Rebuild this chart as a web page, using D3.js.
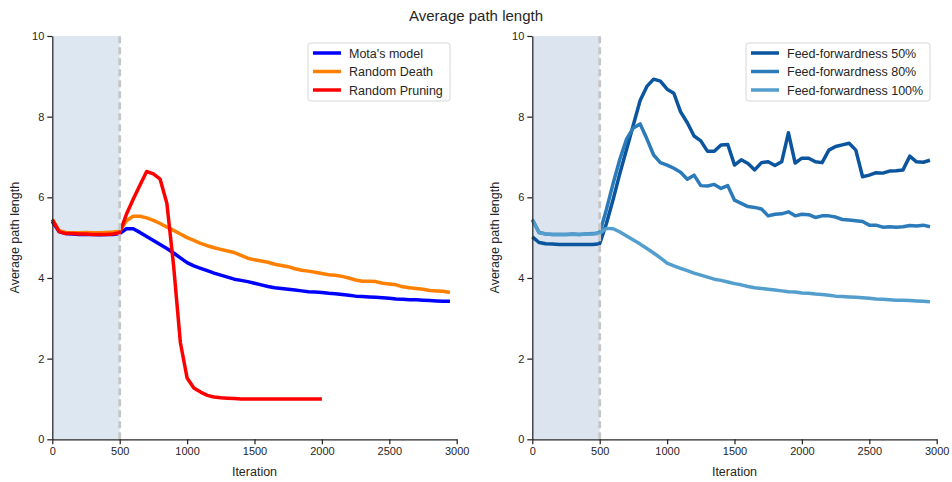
<!DOCTYPE html>
<html>
<head>
<meta charset="utf-8">
<script src="https://cdn.jsdelivr.net/npm/d3@7"></script>
<style>
  body { margin: 0; background: #fff; }
  text { font-family: "Liberation Sans", Arial, sans-serif; fill: #262626; }
</style>
</head>
<body>
<svg class="chart" width="952" height="482"></svg>
<script>
// iterations sampled every 50 steps
const iterations = [0, 50, 100, 150, 200, 250, 300, 350, 400, 450,
    500, 550, 600, 650, 700, 750, 800, 850, 900, 950,
    1000, 1050, 1100, 1150, 1200, 1250, 1300, 1350, 1400, 1450,
    1500, 1550, 1600, 1650, 1700, 1750, 1800, 1850, 1900, 1950,
    2000, 2050, 2100, 2150, 2200, 2250, 2300, 2350, 2400, 2450,
    2500, 2550, 2600, 2650, 2700, 2750, 2800, 2850, 2900, 2950];

const motaModel = [5.40, 5.15, 5.10, 5.09, 5.08, 5.08, 5.08, 5.07, 5.08, 5.08,
    5.10, 5.22, 5.22, 5.13, 5.03, 4.93, 4.83, 4.73, 4.62, 4.50,
    4.38, 4.30, 4.24, 4.18, 4.12, 4.07, 4.02, 3.97, 3.94, 3.91,
    3.87, 3.83, 3.79, 3.76, 3.74, 3.72, 3.70, 3.68, 3.66, 3.65,
    3.64, 3.62, 3.61, 3.59, 3.57, 3.55, 3.54, 3.53, 3.52, 3.51,
    3.50, 3.48, 3.47, 3.46, 3.46, 3.45, 3.44, 3.43, 3.42, 3.42];

const randomDeath = [5.45, 5.18, 5.13, 5.12, 5.12, 5.13, 5.12, 5.12, 5.13, 5.14,
    5.16, 5.42, 5.53, 5.53, 5.49, 5.43, 5.35, 5.26, 5.18, 5.09,
    5.00, 4.93, 4.86, 4.80, 4.75, 4.71, 4.67, 4.63, 4.56, 4.49,
    4.45, 4.42, 4.39, 4.34, 4.31, 4.28, 4.23, 4.19, 4.17, 4.14,
    4.11, 4.08, 4.07, 4.04, 4.00, 3.95, 3.92, 3.92, 3.91, 3.87,
    3.85, 3.83, 3.78, 3.76, 3.74, 3.72, 3.69, 3.68, 3.67, 3.64];

// random pruning stops at 2000
const randomPruning = [5.45, 5.15, 5.10, 5.10, 5.09, 5.09, 5.08, 5.08, 5.08, 5.09,
    5.12, 5.58, 5.95, 6.30, 6.64, 6.58, 6.45, 5.85, 4.30, 2.40,
    1.52, 1.27, 1.17, 1.09, 1.05, 1.03, 1.02, 1.01, 1.00, 1.00,
    1.00, 1.00, 1.00, 1.00, 1.00, 1.00, 1.00, 1.00, 1.00, 1.00,
    1.00];

const ff50 = [5.02, 4.88, 4.85, 4.84, 4.83, 4.83, 4.83, 4.83, 4.83, 4.83,
    4.85, 5.35, 5.95, 6.60, 7.20, 7.80, 8.40, 8.75, 8.93, 8.88,
    8.68, 8.58, 8.12, 7.85, 7.52, 7.40, 7.14, 7.14, 7.30, 7.31,
    6.80, 6.93, 6.84, 6.68, 6.86, 6.88, 6.79, 6.88, 7.60, 6.85,
    6.97, 6.97, 6.88, 6.86, 7.17, 7.26, 7.30, 7.34, 7.17, 6.51,
    6.55, 6.61, 6.60, 6.65, 6.66, 6.68, 7.02, 6.88, 6.87, 6.92];

const ff80 = [5.45, 5.13, 5.09, 5.08, 5.08, 5.08, 5.09, 5.08, 5.09, 5.10,
    5.12, 5.70, 6.35, 6.95, 7.45, 7.72, 7.82, 7.45, 7.05, 6.86,
    6.80, 6.72, 6.62, 6.45, 6.55, 6.29, 6.28, 6.32, 6.22, 6.29,
    5.93, 5.85, 5.77, 5.75, 5.71, 5.54, 5.58, 5.59, 5.64, 5.54,
    5.58, 5.57, 5.50, 5.54, 5.54, 5.51, 5.45, 5.44, 5.42, 5.40,
    5.31, 5.31, 5.26, 5.27, 5.26, 5.27, 5.30, 5.29, 5.31, 5.27];

const ff100 = [5.44, 5.12, 5.09, 5.08, 5.08, 5.08, 5.08, 5.08, 5.09, 5.09,
    5.11, 5.23, 5.22, 5.14, 5.04, 4.94, 4.84, 4.73, 4.62, 4.50,
    4.37, 4.30, 4.24, 4.18, 4.12, 4.07, 4.02, 3.97, 3.94, 3.90,
    3.86, 3.83, 3.79, 3.76, 3.74, 3.72, 3.70, 3.68, 3.66, 3.65,
    3.63, 3.62, 3.60, 3.59, 3.57, 3.55, 3.54, 3.53, 3.52, 3.51,
    3.50, 3.48, 3.47, 3.46, 3.45, 3.45, 3.44, 3.43, 3.42, 3.41];

const xTicks = [0, 500, 1000, 1500, 2000, 2500, 3000];
const yTicks = [0, 2, 4, 6, 8, 10];
const warmupEnd = 500;

const leftSeries = [
    { name: "Mota's model", values: motaModel, color: '#0000ff' },
    { name: 'Random Death', values: randomDeath, color: '#ff8000' },
    { name: 'Random Pruning', values: randomPruning, color: '#ff0000' }
];
const rightSeries = [
    { name: 'Feed-forwardness 50%', values: ff50, color: '#0b559f' },
    { name: 'Feed-forwardness 80%', values: ff80, color: '#2b7bba' },
    { name: 'Feed-forwardness 100%', values: ff100, color: '#539ecd' }
];

const svg = d3.select('.chart');

svg.append('text')
    .attr('x', 476)
    .attr('y', 21)
    .attr('text-anchor', 'middle')
    .style('font-size', '15px')
    .text('Average path length');

function drawPanel(left, series, legendX, legendW, shadeColor) {
    const top = 36, bottom = 439.3, width = 404.4;

    const x = d3.scaleLinear().domain([0, 3000]).range([left, left + width]);
    const y = d3.scaleLinear().domain([0, 10]).range([bottom, top]);

    const g = svg.append('g');

    // warm-up shading
    g.append('rect')
        .attr('x', x(0))
        .attr('y', y(10))
        .attr('width', x(warmupEnd) - x(0))
        .attr('height', y(0) - y(10))
        .attr('fill', shadeColor);

    const line = d3.line()
        .x((d, i) => x(iterations[i]))
        .y(d => y(d));

    g.selectAll('path.series')
        .data(series)
        .join('path')
        .attr('class', 'series')
        .attr('d', d => line(d.values))
        .attr('fill', 'none')
        .attr('stroke', d => d.color)
        .attr('stroke-width', 3.5)
        .attr('stroke-linejoin', 'round');

    g.append('line')
        .attr('x1', x(warmupEnd)).attr('x2', x(warmupEnd))
        .attr('y1', y(0)).attr('y2', y(10))
        .attr('stroke', '#c6c6c6')
        .attr('stroke-width', 2.8)
        .attr('stroke-dasharray', '7,4');

    // axes
    const xAxis = g.append('g')
        .attr('transform', `translate(0,${bottom})`)
        .call(d3.axisBottom(x).tickValues(xTicks).tickFormat(d3.format('d'))
            .tickSize(5).tickPadding(3).tickSizeOuter(0));
    const yAxis = g.append('g')
        .attr('transform', `translate(${left},0)`)
        .call(d3.axisLeft(y).tickValues(yTicks).tickFormat(d3.format('d'))
            .tickSize(5).tickPadding(3).tickSizeOuter(0));

    [xAxis, yAxis].forEach(a => {
        a.select('.domain').attr('stroke', '#262626').attr('stroke-width', 1.25);
        a.selectAll('.tick line').attr('stroke', '#262626').attr('stroke-width', 1.25);
        a.selectAll('.tick text')
            .style('font-size', '11px')
            .style('font-family', '"Liberation Sans", Arial, sans-serif')
            .attr('fill', '#262626');
    });

    g.append('text')
        .attr('x', left + width / 2)
        .attr('y', 476)
        .attr('text-anchor', 'middle')
        .style('font-size', '12.5px')
        .text('Iteration');

    g.append('text')
        .attr('transform', `translate(${left - 33},${(top + bottom) / 2}) rotate(-90)`)
        .attr('text-anchor', 'middle')
        .style('font-size', '12.5px')
        .text('Average path length');

    // legend
    const lg = g.append('g').attr('transform', `translate(${legendX},43)`);
    lg.append('rect')
        .attr('width', legendW)
        .attr('height', 58)
        .attr('rx', 2.5)
        .attr('fill', '#fff')
        .attr('stroke', '#d6d6d6')
        .attr('stroke-width', 1);
    const items = lg.selectAll('g.item')
        .data(series)
        .join('g')
        .attr('class', 'item')
        .attr('transform', (d, i) => `translate(0,${10 + i * 18.5})`);
    items.append('line')
        .attr('x1', 5).attr('x2', 33)
        .attr('stroke', d => d.color)
        .attr('stroke-width', 3.5);
    items.append('text')
        .attr('x', 41)
        .attr('y', 4.5)
        .style('font-size', '12.5px')
        .text(d => d.name);
}

drawPanel(52.3, leftSeries, 308, 142, '#dce7f1');
drawPanel(532.3, rightSeries, 746, 184, '#dbe4ef');
</script>
</body>
</html>
